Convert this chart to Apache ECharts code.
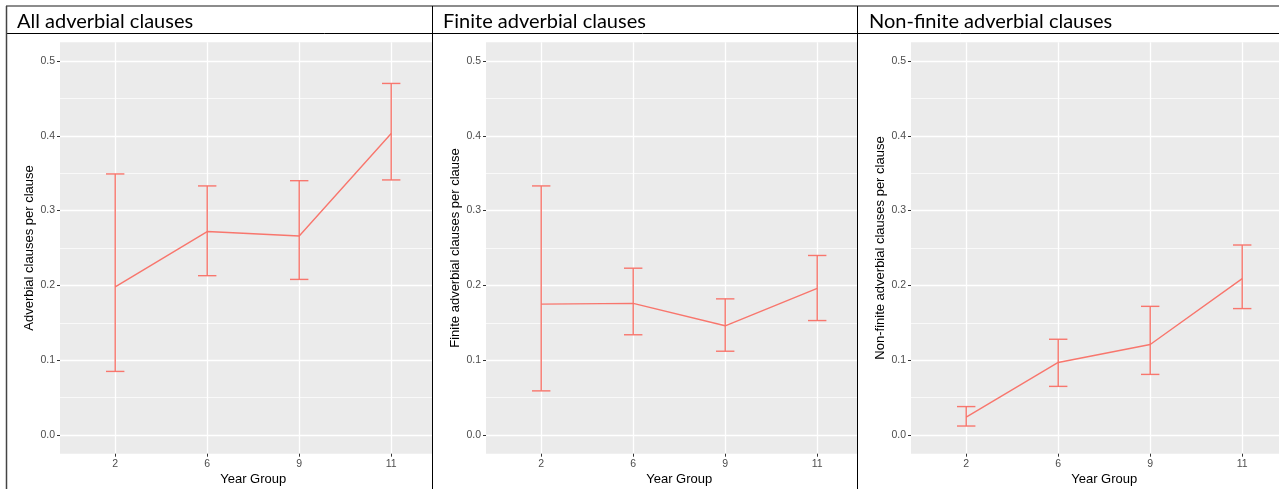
<!DOCTYPE html>
<html><head><meta charset="utf-8">
<script src="https://cdn.jsdelivr.net/npm/echarts@6/dist/echarts.min.js"></script>
<style>html,body{margin:0;padding:0;background:#fff}#c{width:1279px;height:489px}</style>
</head><body><div id="c"></div>
<script>
const categories = ['2', '6', '9', '11'];
const panelTitles = ['All adverbial clauses', 'Finite adverbial clauses', 'Non-finite adverbial clauses'];
const yAxisTitles = ['Adverbial clauses per clause', 'Finite adverbial clauses per clause', 'Non-finite adverbial clauses per clause'];
const xAxisTitle = 'Year Group';

const allMean = [0.198, 0.272, 0.266, 0.403];
const allLower = [0.085, 0.213, 0.208, 0.341];
const allUpper = [0.349, 0.333, 0.340, 0.470];

const finiteMean = [0.175, 0.176, 0.146, 0.196];
const finiteLower = [0.059, 0.134, 0.112, 0.153];
const finiteUpper = [0.333, 0.223, 0.182, 0.240];

const nonFiniteMean = [0.024, 0.097, 0.121, 0.209];
const nonFiniteLower = [0.012, 0.065, 0.081, 0.169];
const nonFiniteUpper = [0.038, 0.128, 0.172, 0.254];

const panelData = [
  [allMean, allLower, allUpper],
  [finiteMean, finiteLower, finiteUpper],
  [nonFiniteMean, nonFiniteLower, nonFiniteUpper]
];

// layout
const panels = [
  { plotLeft: 60, plotRight: 432, titleX: 17 },
  { plotLeft: 486, plotRight: 857, titleX: 443 },
  { plotLeft: 911, plotRight: 1279, titleX: 869 }
];
const plotTop = 42.3, plotBottom = 453.7;
const yMin = -0.025, yMax = 0.525;
const pitch = 92;
const pxPerUnit = (plotBottom - plotTop) / (yMax - yMin);

const COLOR = '#F8766D';
const AXFONT = "'Liberation Sans', Arial, Helvetica, sans-serif";

const grid = [], xAxis = [], yAxis = [], series = [], graphic = [];
const gridBase = { containLabel: false, outerBoundsMode: 'none' };

panels.forEach((p, i) => {
  const w = p.plotRight - p.plotLeft;
  // background grid
  grid.push(Object.assign({ left: p.plotLeft, width: w, top: plotTop, height: plotBottom - plotTop,
    show: true, backgroundColor: '#EBEBEB', borderWidth: 0 }, gridBase));
  xAxis.push({ gridIndex: 3 * i, type: 'value', min: 0, max: 1, show: false });
  yAxis.push({ gridIndex: 3 * i, type: 'value', min: 0, max: 1, show: false });
  // y axis grid (0..0.5)
  grid.push(Object.assign({ left: p.plotLeft, width: w, top: plotTop + (yMax - 0.5) * pxPerUnit,
    height: 0.5 * pxPerUnit }, gridBase));
  xAxis.push({ gridIndex: 3 * i + 1, type: 'value', min: 0, max: 1, show: false });
  yAxis.push({
    gridIndex: 3 * i + 1, type: 'value', min: 0, max: 0.5, interval: 0.1,
    axisLine: { show: false, onZero: false },
    axisTick: { show: true, length: 3, lineStyle: { color: '#333333', width: 1 } },
    axisLabel: { color: '#4D4D4D', fontSize: 10.5, fontFamily: AXFONT, margin: 5,
      formatter: v => v.toFixed(1) },
    splitLine: { show: true, lineStyle: { color: '#FFFFFF', width: 1.3 } },
    minorTick: { show: false, splitNumber: 2 },
    minorSplitLine: { show: true, lineStyle: { color: '#FFFFFF', width: 0.7 } },
    name: yAxisTitles[i], nameLocation: 'middle', nameGap: 24, nameRotate: 90,
    nameMoveOverlap: false,
    nameTextStyle: { color: '#000', fontSize: 13, fontFamily: AXFONT }
  });
  // x axis grid (categories)
  grid.push(Object.assign({ left: p.plotLeft + 0.6 * pitch, width: 3 * pitch, top: plotTop,
    height: plotBottom - plotTop }, gridBase));
  xAxis.push({
    gridIndex: 3 * i + 2, type: 'category', data: categories, boundaryGap: false,
    axisLine: { show: false, onZero: false },
    axisTick: { show: true, length: 3, lineStyle: { color: '#333333', width: 1 } },
    axisLabel: { color: '#4D4D4D', fontSize: 10.5, fontFamily: AXFONT, margin: 5, interval: 0 },
    splitLine: { show: true, lineStyle: { color: '#FFFFFF', width: 1.3 } },
    name: xAxisTitle, nameLocation: 'middle', nameGap: 19, nameMoveOverlap: false,
    nameTextStyle: { color: '#000', fontSize: 13, fontFamily: AXFONT }
  });
  yAxis.push({ gridIndex: 3 * i + 2, type: 'value', min: yMin, max: yMax, show: false });

  const [mean, lower, upper] = panelData[i];
  series.push({
    type: 'custom', xAxisIndex: 3 * i + 2, yAxisIndex: 3 * i + 2, clip: false,
    encode: { x: 0, y: [1, 2] },
    data: categories.map((c, k) => [k, lower[k], upper[k]]),
    renderItem: function (params, api) {
      const x = api.value(0);
      const lo = api.coord([x, api.value(1)]);
      const hi = api.coord([x, api.value(2)]);
      const half = api.size([1, 0])[0] * 0.1;
      const style = { stroke: COLOR, lineWidth: 1.4, fill: null };
      return { type: 'group', children: [
        { type: 'line', shape: { x1: hi[0], y1: hi[1], x2: lo[0], y2: lo[1] }, style },
        { type: 'line', shape: { x1: hi[0] - half, y1: hi[1], x2: hi[0] + half, y2: hi[1] }, style },
        { type: 'line', shape: { x1: lo[0] - half, y1: lo[1], x2: lo[0] + half, y2: lo[1] }, style }
      ] };
    },
    z: 3
  });
  series.push({
    type: 'line', xAxisIndex: 3 * i + 2, yAxisIndex: 3 * i + 2,
    data: mean, showSymbol: false, symbol: 'none',
    lineStyle: { color: COLOR, width: 1.4 }, z: 4
  });

  graphic.push({ type: 'text', left: p.titleX, top: 12, z: 60,
    style: { text: panelTitles[i], font: "20px Lato, 'Open Sans', sans-serif", fill: '#000' } });
});

// table frame
graphic.push({ type: 'line', z: 50, shape: { x1: 6, y1: 6, x2: 1279, y2: 6 }, style: { stroke: '#8c8c8c', lineWidth: 2 } });
graphic.push({ type: 'line', z: 50, shape: { x1: 6, y1: 33.5, x2: 1279, y2: 33.5 }, style: { stroke: '#000', lineWidth: 1 } });
graphic.push({ type: 'line', z: 50, shape: { x1: 6.5, y1: 6, x2: 6.5, y2: 489 }, style: { stroke: '#444', lineWidth: 1.5 } });
graphic.push({ type: 'line', z: 50, shape: { x1: 432.5, y1: 6, x2: 432.5, y2: 489 }, style: { stroke: '#000', lineWidth: 1 } });
graphic.push({ type: 'line', z: 50, shape: { x1: 857.5, y1: 6, x2: 857.5, y2: 489 }, style: { stroke: '#000', lineWidth: 1 } });

const chart = echarts.init(document.getElementById('c'), null, { renderer: 'canvas' });
chart.setOption({ animation: false, grid, xAxis, yAxis, series, graphic });
</script></body></html>
